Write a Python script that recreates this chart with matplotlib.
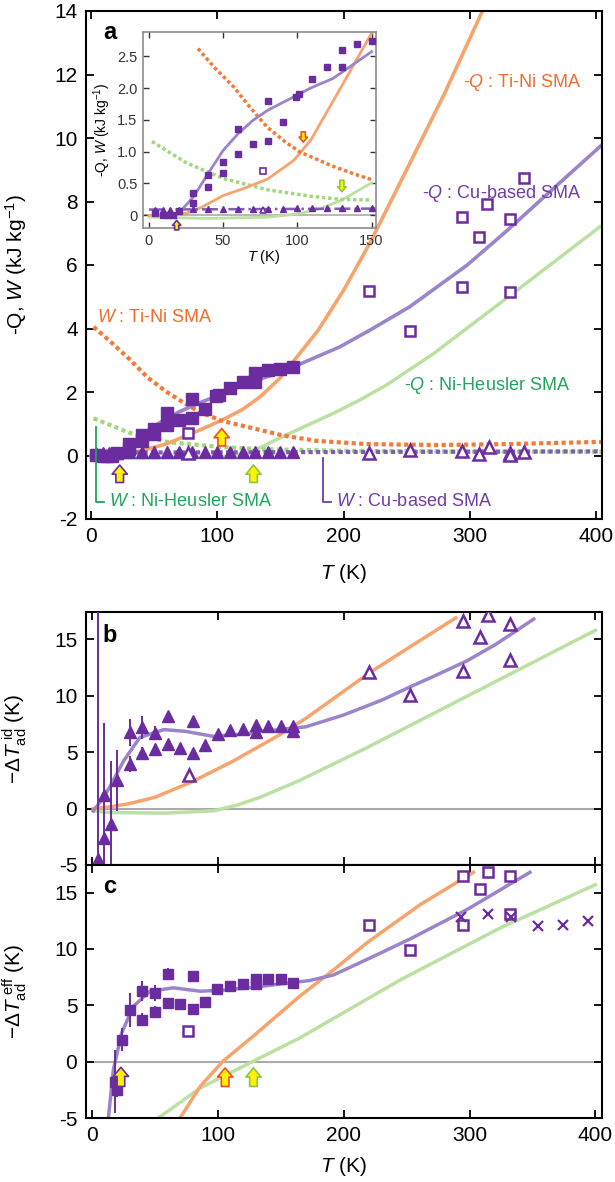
import numpy as np
import matplotlib
matplotlib.use('Agg')
import matplotlib.pyplot as plt

plt.rcParams['font.family'] = ['Liberation Sans', 'DejaVu Sans']
plt.rcParams['mathtext.fontset'] = 'custom'
plt.rcParams['mathtext.rm'] = 'Liberation Sans'
plt.rcParams['mathtext.it'] = 'Liberation Sans:italic'
plt.rcParams['mathtext.bf'] = 'Liberation Sans:bold'
plt.rcParams['axes.unicode_minus'] = False

# colours
OR_LINE = '#F7A36C'
OR_DOT = '#F27A38'
OR_TXT = '#F26B2A'
PU_MARK = '#6A2C9E'
PU_LINE = '#9C84CB'
PU_DOT = '#7F5CB6'
PU_TXT = '#6E3CA5'
GR_LINE = '#BBE1A2'
GR_DOT = '#A2D77E'
GR_TXT = '#23A45C'
ZERO = '#AAAAAA'
YEL = '#FFF200'

# ---------------- panel a : heat and work ----------------
# -Q Cu-based (filled squares)
cu_sq_T = [4, 9.7, 13, 16.4, 20.3, 30, 30, 40, 40, 50, 50, 60, 60, 70, 80, 80, 90,
           99, 101, 110, 120, 130, 130, 140, 150, 160]
cu_sq_Q = [0.03, 0.0, 0.0, 0.0, 0.07, 0.35, 0.2, 0.45, 0.64, 0.67, 0.84, 0.96, 1.35,
           1.12, 1.17, 1.79, 1.46, 1.86, 1.9, 2.14, 2.33, 2.6, 2.33, 2.69, 2.74, 2.79]
# W Cu-based (filled triangles)
cu_tri_T = [4, 9.7, 14, 20.3, 30, 40, 50, 60, 70, 80, 90, 100, 110, 120, 130, 140, 150, 160]
cu_tri_W = [0.09, 0.09, 0.09, 0.09, 0.1, 0.1, 0.1, 0.1, 0.1, 0.1, 0.1, 0.11, 0.11, 0.11,
            0.11, 0.11, 0.11, 0.11]
# open symbols (other Cu-based samples)
op_sq_T = [77, 220, 253, 294, 294, 307, 314, 332, 332, 343]
op_sq_Q = [0.7, 5.18, 3.91, 5.31, 7.51, 6.88, 7.91, 5.15, 7.44, 8.74]
op_tri_T = [77, 220, 252.5, 294, 307, 315, 332, 332, 343]
op_tri_W = [0.08, 0.09, 0.17, 0.14, 0.05, 0.28, 0.09, 0.02, 0.12]

# curves, main panel
tini_q_T = [0, 20, 40, 60, 86, 104, 120, 134, 150, 165, 180, 200, 221, 250, 280, 310]
tini_q = [0, 0.03, 0.15, 0.37, 0.8, 1.12, 1.45, 1.85, 2.45, 3.2, 3.95, 5.2, 6.7, 9.0, 11.4, 14.0]
tini_w_T = [2, 15, 30, 45, 60, 75, 86, 103, 126, 152, 179, 218, 276, 330, 405]
tini_w = [4.05, 3.6, 3.05, 2.45, 2.0, 1.62, 1.37, 1.1, 0.88, 0.63, 0.46, 0.36, 0.33, 0.36, 0.43]
cu_q_T = [15, 20, 30, 40, 50, 60, 70, 86, 100, 126, 150, 165.5, 197, 221, 253, 298, 330, 366, 404]
cu_q = [0, 0.03, 0.3, 0.62, 0.92, 1.17, 1.38, 1.66, 1.88, 2.3, 2.62, 2.88, 3.42, 3.95, 4.7,
        6.0, 7.1, 8.4, 9.76]
cu_w_T = [0, 100, 200, 300, 405]
cu_w = [0.09, 0.1, 0.11, 0.12, 0.13]
nh_q_T = [0, 40, 80, 110, 125, 134, 152, 192, 213, 234, 271, 329, 403]
nh_q = [-0.05, -0.08, -0.06, -0.02, 0.1, 0.25, 0.6, 1.33, 1.75, 2.22, 3.2, 4.95, 7.2]
nh_w_T = [2, 30, 61, 86, 102, 134, 200, 300, 405]
nh_w = [1.17, 0.72, 0.42, 0.33, 0.27, 0.2, 0.15, 0.12, 0.12]

# curves, inset
in_tini_q_T = [0, 15, 25, 35, 50, 65, 80, 97.5, 109, 124.5, 150]
in_tini_q = [0, 0.0, 0.03, 0.12, 0.31, 0.43, 0.57, 0.86, 1.18, 1.81, 2.86]
in_tini_w_T = [33, 45, 57, 68, 79.5, 92, 102, 109, 124, 137, 150]
in_tini_w = [2.62, 2.3, 2.02, 1.7, 1.39, 1.15, 0.99, 0.92, 0.77, 0.66, 0.56]
in_cu_q_T = [15, 20, 30, 40, 50, 60, 70, 80, 90, 100, 109, 124, 150]
in_cu_q = [0, 0.03, 0.29, 0.66, 1.02, 1.28, 1.49, 1.65, 1.77, 1.89, 2.0, 2.15, 2.57]
in_nh_q_T = [0, 40, 80, 100, 115, 130, 150]
in_nh_q = [-0.03, -0.05, -0.03, 0.02, 0.1, 0.24, 0.51]
in_nh_w_T = [2, 25.5, 50, 80, 109, 129, 150]
in_nh_w = [1.16, 0.82, 0.58, 0.4, 0.3, 0.25, 0.24]

# transition temperature arrows (T, tip, tail)
a_arrows = [(22.7, -0.3, -0.85, PU_MARK), (103.5, 0.85, 0.3, '#F04E23'), (128.7, -0.3, -0.85, '#8DC63F')]
in_arrows = [(18.7, -0.08, -0.23, PU_MARK), (104, 1.15, 1.31, '#F04E23'), (130, 0.37, 0.55, '#8DC63F')]
c_arrows = [(23, -0.5, -2.2, PU_MARK), (105.8, -0.55, -2.2, '#F04E23'), (128.3, -0.55, -2.2, '#8DC63F')]

# ---------------- panel b : ideal dT ----------------
b_T = [4.5, 9.8, 9.8, 15, 20, 30, 30, 40, 40, 50, 50, 60, 60, 70, 80, 80, 90, 100, 110,
       120, 130, 130, 140, 150, 160, 160]
b_y = [-4.5, -2.6, 1.2, -1.35, 2.5, 6.75, 3.95, 7.2, 4.9, 6.7, 5.3, 8.2, 5.7, 5.4, 7.75,
       4.95, 5.6, 6.6, 7.0, 7.05, 7.4, 6.75, 7.3, 7.3, 7.3, 6.9]
b_err = [25, 0, 6.4, 5.6, 2.7, 1.2, 0.7, 1.0, 0.6, 0.6, 0.4, 0.4, 0.3, 0.3, 0.4, 0.3,
         0.3, 0.3, 0.3, 0.3, 0.3, 0.3, 0.2, 0.2, 0.2, 0.2]
b_op_T = [77, 220.5, 253, 295, 295, 308, 315, 332.5, 332.5]
b_op_y = [3.0, 12.1, 10.05, 12.2, 16.6, 15.2, 17.2, 16.4, 13.2]
b_tini_T = [1, 14, 30, 50, 80, 112, 147, 170, 220, 255, 289]
b_tini = [0, 0.15, 0.45, 1.0, 2.4, 4.2, 6.4, 8.0, 12.0, 14.5, 16.9]
b_cu_T = [1, 8, 14, 25, 38, 57, 74, 96.5, 120, 140, 170, 200, 230, 253, 275, 298, 320, 335, 351]
b_cu = [-0.2, 0.8, 1.9, 4.2, 6.3, 7.0, 6.85, 6.4, 6.6, 6.9, 7.25, 8.3, 9.6, 10.8, 11.9,
        13.1, 14.5, 15.6, 16.8]
b_nh_T = [1, 14, 58, 96.5, 115, 133.6, 165, 218.5, 298, 400]
b_nh = [-0.2, -0.35, -0.4, -0.2, 0.3, 1.0, 2.5, 5.4, 9.96, 15.8]

# ---------------- panel c : effective dT ----------------
c_T = [18.5, 19.5, 23.6, 30, 40, 40, 50, 50, 60, 60, 70, 80, 80, 90, 99.6, 110, 120,
       130, 130, 140, 150, 160]
c_y = [-1.8, -2.5, 1.95, 4.6, 6.25, 3.73, 6.1, 4.4, 7.8, 5.2, 5.15, 7.6, 4.7, 5.3, 6.45,
       6.75, 6.85, 7.3, 6.85, 7.3, 7.3, 7.0]
c_err = [2.8, 0.6, 1.0, 1.5, 0.9, 0.6, 0.7, 0.5, 0.5, 0.4, 0.3, 0.3, 0.3, 0.3, 0.3, 0.3,
         0.2, 0.2, 0.2, 0.2, 0.2, 0.2]
c_op_T = [76.6, 220.5, 253, 294.8, 294.8, 308, 315, 332.4, 332.4]
c_op_y = [2.75, 12.1, 9.87, 12.1, 16.5, 15.3, 16.8, 16.5, 13.1]
c_x_T = [293, 314.6, 333.2, 354, 374.3, 393.9]
c_x_y = [12.85, 13.1, 12.8, 12.03, 12.1, 12.5]
c_tini_T = [70, 86, 104, 128, 165, 187, 218.5, 261, 303]
c_tini = [-5, -2.2, 0.03, 2.25, 5.8, 7.7, 10.55, 13.95, 16.8]
c_cu_T = [13, 17, 23.6, 32.8, 46, 64.7, 86, 105, 128, 158, 173, 192, 218.5, 253, 298, 348]
c_cu = [-5, -0.7, 2.55, 4.9, 6.25, 6.55, 6.25, 6.35, 6.6, 7.0, 7.2, 7.7, 9.07, 10.9, 13.5, 16.8]
c_nh_T = [52.7, 86, 128, 165, 245.7, 325, 400]
c_nh = [-5, -2.34, 0.03, 2.1, 7.3, 11.9, 15.7]

DOTS = (0, (1, 0.8))


def block_arrow(ax, x, tip, tail, ec, scale=10):
    ax.annotate('', xy=(x, tip), xytext=(x, tail),
                arrowprops=dict(arrowstyle='simple,head_length=0.6,head_width=1.0,tail_width=0.5',
                                fc=YEL, ec=ec, lw=1.2, shrinkA=0, shrinkB=0,
                                mutation_scale=scale),
                annotation_clip=False, zorder=6)


def style(ax, size=15):
    ax.tick_params(direction='in', top=True, right=True, length=6, width=1.3,
                   labelsize=size, pad=6)
    for s in ax.spines.values():
        s.set_linewidth(1.5)


W, H = 615, 1182
fig = plt.figure(figsize=(W / 100, H / 100), dpi=100)
ax_a = fig.add_axes([86 / W, 1 - 519 / H, 515.7 / W, 508 / H])
ax_b = fig.add_axes([85.7 / W, 1 - 865 / H, 516 / W, 253.3 / H])
ax_c = fig.add_axes([85.7 / W, 1 - 1118 / H, 516 / W, 253 / H])
ax_in = fig.add_axes([143 / W, 1 - 228 / H, 233 / W, 196 / H])

# ---- panel a
ax = ax_a
ax.plot(nh_q_T, nh_q, color=GR_LINE, lw=2.5, zorder=2)
ax.plot(nh_w_T, nh_w, color=GR_DOT, lw=3, ls=DOTS, zorder=2)
ax.plot(tini_q_T, tini_q, color=OR_LINE, lw=2.6, zorder=2)
ax.plot(tini_w_T, tini_w, color=OR_DOT, lw=3, ls=DOTS, zorder=2)
ax.plot(cu_w_T, cu_w, color=PU_DOT, lw=3, ls=DOTS, zorder=2)
ax.plot(cu_q_T, cu_q, color=PU_LINE, lw=2.6, zorder=2)
ax.plot(cu_sq_T, cu_sq_Q, 's', color=PU_MARK, ms=9, zorder=3)
ax.plot(cu_tri_T, cu_tri_W, '^', color=PU_MARK, ms=9, zorder=3)
ax.plot(op_sq_T, op_sq_Q, 's', mfc='white', mec=PU_MARK, mew=1.8, ms=7.5, zorder=3)
ax.plot(op_tri_T, op_tri_W, '^', mfc='white', mec=PU_MARK, mew=1.8, ms=8, zorder=3)
for x, tip, tail, ec in a_arrows:
    block_arrow(ax, x, tip, tail, ec, scale=11)
ax.set_xlim(-4, 404.5)
ax.set_ylim(-2, 14)
ax.set_xticks([0, 100, 200, 300, 400])
ax.set_yticks(range(-2, 15, 2))
style(ax)
ax.set_xlabel('$T$ (K)', fontsize=15)
ax.xaxis.set_label_coords(0.5, -0.085)
ax.set_ylabel('-Q, $W$ (kJ kg$^{-1}$)', fontsize=15)
ax.yaxis.set_label_coords(-0.11, 0.5)
ax.text(0.047, 0.957, 'a', transform=ax.transAxes, fontsize=17, fontweight='bold',
        ha='center', va='center')
tk = dict(fontsize=13, va='center', ha='left')
ax.text(294.6, 11.75, '-$Q$ : Ti-Ni SMA', color=OR_TXT, **tk)
ax.text(262, 8.25, '-$Q$ : Cu-based SMA', color=PU_TXT, **tk)
ax.text(4.6, 4.36, '$W$ : Ti-Ni SMA', color=OR_TXT, **tk)
ax.text(248, 2.22, '-$Q$ : Ni-Heusler SMA', color=GR_TXT, **tk)
ax.text(14, -1.45, '$W$ : Ni-Heusler SMA', color=GR_TXT, **tk)
ax.text(194, -1.45, '$W$ : Cu-based SMA', color=PU_TXT, **tk)
ax.plot([4, 4, 10], [0.9, -1.45, -1.45], color=GR_TXT, lw=1.3, zorder=4)
ax.plot([184, 184, 190], [-0.08, -1.45, -1.45], color=PU_TXT, lw=1.3, zorder=4)

# ---- inset
ax = ax_in
ax.set_facecolor('white')
ax.axhline(0, color=ZERO, lw=1.2, zorder=1)
ax.plot(in_nh_q_T, in_nh_q, color=GR_LINE, lw=2, zorder=2)
ax.plot(in_nh_w_T, in_nh_w, color=GR_DOT, lw=2.5, ls=DOTS, zorder=2)
ax.plot(in_tini_q_T, in_tini_q, color=OR_LINE, lw=2, zorder=2)
ax.plot(in_tini_w_T, in_tini_w, color=OR_DOT, lw=2.5, ls=DOTS, zorder=2)
ax.plot(cu_w_T, cu_w, color=PU_DOT, lw=1.8, ls='-.', zorder=2)
ax.plot(in_cu_q_T, in_cu_q, color=PU_LINE, lw=2, zorder=2)
ax.plot(cu_sq_T, cu_sq_Q, 's', color=PU_MARK, ms=5, zorder=3)
ax.plot(cu_tri_T, cu_tri_W, '^', color=PU_MARK, ms=5, zorder=3)
ax.plot(op_sq_T, op_sq_Q, 's', mfc='white', mec=PU_MARK, mew=1.2, ms=4.5, zorder=3)
ax.plot(op_tri_T, op_tri_W, '^', mfc='white', mec=PU_MARK, mew=1.2, ms=4.5, zorder=3)
for x, tip, tail, ec in in_arrows:
    block_arrow(ax, x, tip, tail, ec, scale=6)
ax.set_xlim(-4, 153)
ax.set_ylim(-0.2, 2.88)
ax.set_xticks([0, 50, 100, 150])
ax.set_yticks([0, 0.5, 1.0, 1.5, 2.0, 2.5])
ax.set_yticklabels(['0', '0.5', '1.0', '1.5', '2.0', '2.5'])
ax.tick_params(direction='in', top=True, right=True, length=4, width=1.0,
               labelsize=10.5, pad=4, colors='#333333')
for s in ax.spines.values():
    s.set_color('#8C8C8C')
    s.set_linewidth(1.2)
ax.set_xlabel('$T$ (K)', fontsize=10.5)
ax.xaxis.set_label_coords(0.52, -0.1)
ax.set_ylabel('-Q, $W$ (kJ kg$^{-1}$)', fontsize=10)
ax.yaxis.set_label_coords(-0.13, 0.5)

# ---- panel b
ax = ax_b
ax.axhline(0, color=ZERO, lw=1.5, zorder=1)
ax.plot(b_nh_T, b_nh, color=GR_LINE, lw=2.5, zorder=2)
ax.plot(b_tini_T, b_tini, color=OR_LINE, lw=2.5, zorder=2)
ax.plot(b_cu_T, b_cu, color=PU_LINE, lw=2.5, zorder=2)
ax.errorbar(b_T, b_y, yerr=b_err, fmt='^', color=PU_MARK, ms=8, elinewidth=1.4,
            capsize=0, zorder=3)
ax.plot(b_op_T, b_op_y, '^', mfc='white', mec=PU_MARK, mew=1.8, ms=8, zorder=3)
ax.set_xlim(-5, 405)
ax.set_ylim(-5, 17.45)
ax.set_xticks([0, 100, 200, 300, 400])
ax.set_yticks([-5, 0, 5, 10, 15])
style(ax)
ax.tick_params(labelbottom=False)
ax.set_ylabel(r'$-\Delta T_{\rm ad}^{\rm\ id}$ (K)', fontsize=15)
ax.yaxis.set_label_coords(-0.11, 0.5)
ax.text(0.047, 0.908, 'b', transform=ax.transAxes, fontsize=17, fontweight='bold',
        ha='center', va='center')

# ---- panel c
ax = ax_c
ax.axhline(0, color=ZERO, lw=1.5, zorder=1)
ax.plot(c_nh_T, c_nh, color=GR_LINE, lw=2.5, zorder=2)
ax.plot(c_tini_T, c_tini, color=OR_LINE, lw=2.5, zorder=2)
ax.plot(c_cu_T, c_cu, color=PU_LINE, lw=2.5, zorder=2)
ax.errorbar(c_T, c_y, yerr=c_err, fmt='s', color=PU_MARK, ms=7.5, elinewidth=1.4,
            capsize=0, zorder=3)
ax.plot(c_op_T, c_op_y, 's', mfc='white', mec=PU_MARK, mew=1.8, ms=7.5, zorder=3)
ax.plot(c_x_T, c_x_y, 'x', color=PU_MARK, mew=1.6, ms=6.5, zorder=3)
for x, tip, tail, ec in c_arrows:
    block_arrow(ax, x, tip, tail, ec, scale=11)
ax.set_xlim(-5, 405)
ax.set_ylim(-5, 17.45)
ax.set_xticks([0, 100, 200, 300, 400])
ax.set_yticks([-5, 0, 5, 10, 15])
style(ax)
ax.set_xlabel('$T$ (K)', fontsize=15)
ax.xaxis.set_label_coords(0.5, -0.145)
ax.set_ylabel(r'$-\Delta T_{\rm ad}^{\rm\ eff}$ (K)', fontsize=15)
ax.yaxis.set_label_coords(-0.11, 0.5)
ax.text(0.047, 0.914, 'c', transform=ax.transAxes, fontsize=17, fontweight='bold',
        ha='center', va='center')

fig.savefig('out.png', dpi=100)
